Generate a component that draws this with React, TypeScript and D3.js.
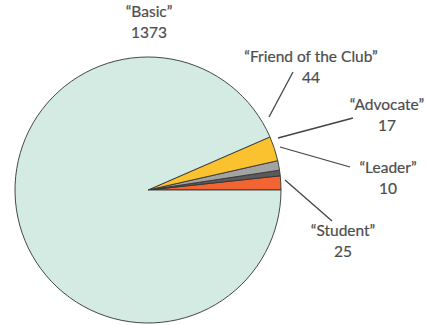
import React from "react";
import * as d3 from "d3";

const categories = ["Student", "Leader", "Advocate", "Friend of the Club", "Basic"];
const values = [25, 10, 17, 44, 1373];
const colors = ["#f26532", "#5a5a5a", "#a3a3a3", "#f9c22e", "#d3ebe3"];

// label layout (annotation positions)
const labelPos: Record<string, { x: number; y: number; line?: [number, number, number, number] }> = {
  "Basic": { x: 149, y: 17 },
  "Friend of the Club": { x: 311, y: 62, line: [269, 117, 293, 72] },
  "Advocate": { x: 387, y: 110, line: [278, 138, 353, 118] },
  "Leader": { x: 388, y: 173, line: [280, 147, 350, 167] },
  "Student": { x: 343, y: 236, line: [285, 180, 332, 221] },
};

export default function App() {
  const W = 426, H = 325;
  const cx = 148, cy = 190, r = 133;
  const pie = d3
    .pie<number>()
    .sort(null)
    .value((d) => d)
    .startAngle(Math.PI / 2)
    .endAngle(Math.PI / 2 - 2 * Math.PI);
  const arcs = pie(values);
  const arc = d3.arc<d3.PieArcDatum<number>>().innerRadius(0).outerRadius(r);
  const font = "Lato, sans-serif";
  return (
    <div style={{ position: "fixed", left: 0, top: 0 }}>
      <svg width={W} height={H} style={{ display: "block", background: "#fff" }}>
        <g transform={`translate(${cx},${cy})`}>
          {arcs.map((a, i) => (
            <path key={i} d={arc(a) || ""} fill={colors[i]} stroke="#333" strokeWidth={0.9} strokeLinejoin="round" />
          ))}
        </g>
        {categories.map((c, i) => {
          const p = labelPos[c];
          return (
            <g key={c}>
              {p.line && (
                <line x1={p.line[0]} y1={p.line[1]} x2={p.line[2]} y2={p.line[3]} stroke="#444" strokeWidth={1.3} />
              )}
              <text x={p.x} y={p.y} textAnchor="middle" fontFamily={font} fontSize={15.5} fill="#4d4d4d" stroke="#4d4d4d" strokeWidth={0.2}>
                {`“${c}”`}
              </text>
              <text x={p.x} y={p.y + 21} textAnchor="middle" fontFamily={font} fontSize={15.5} fill="#4d4d4d" stroke="#4d4d4d" strokeWidth={0.2}>
                {values[i]}
              </text>
            </g>
          );
        })}
      </svg>
    </div>
  );
}
